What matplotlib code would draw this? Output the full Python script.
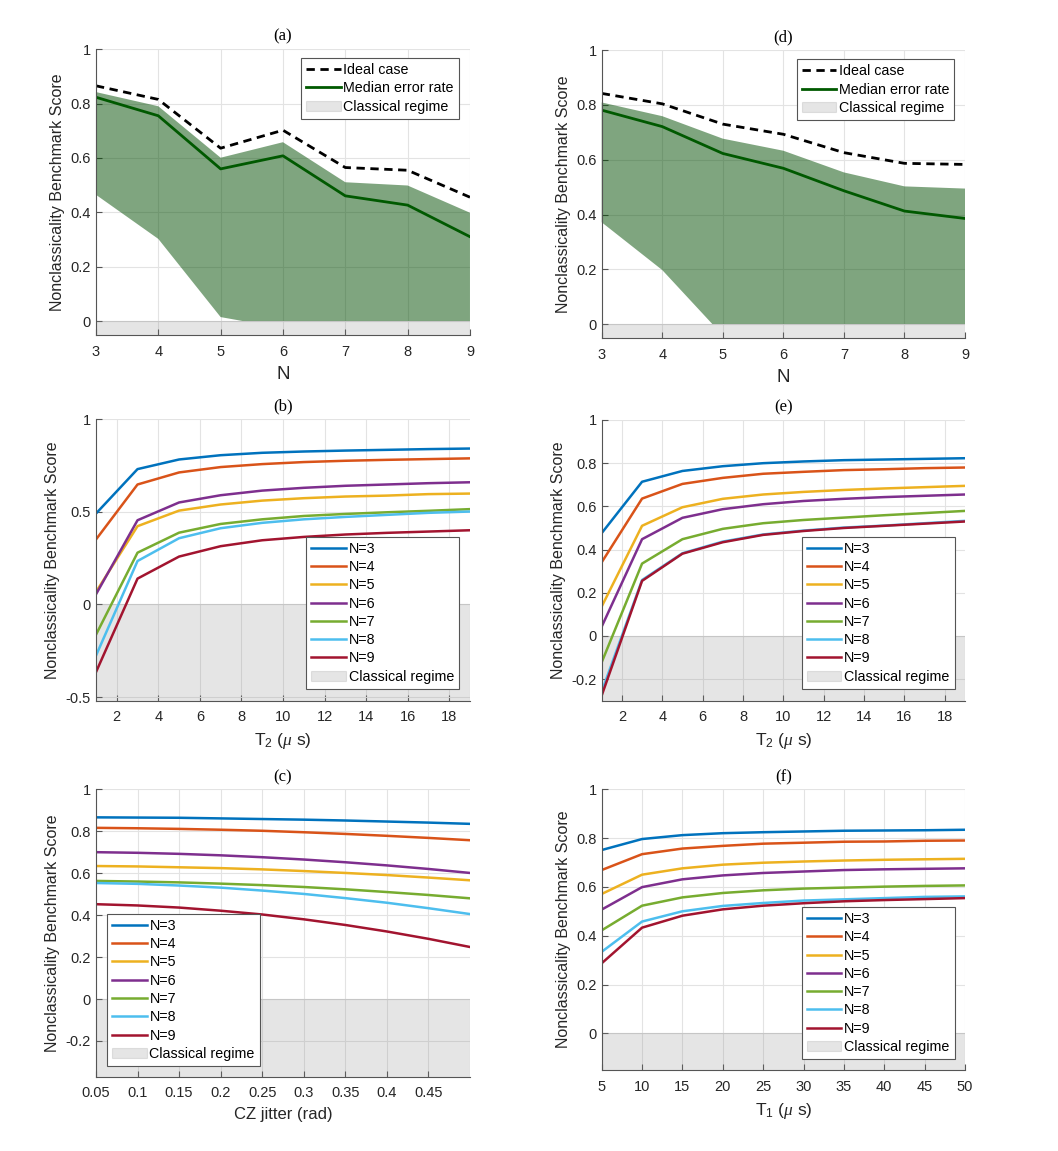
import matplotlib
matplotlib.use("Agg")
import matplotlib.pyplot as plt
from matplotlib.patches import Rectangle
from matplotlib.ticker import FormatStrFormatter

plt.rcParams["font.family"] = ["Liberation Sans", "DejaVu Sans"]
plt.rcParams["axes.unicode_minus"] = False
plt.rcParams["mathtext.fontset"] = "custom"
plt.rcParams["mathtext.rm"] = "Liberation Sans"
plt.rcParams["mathtext.it"] = "Liberation Serif:italic"

# ---- panel (a) / (d): score vs number of qubits ----
n_qubits = [3, 4, 5, 6, 7, 8, 9]
ideal_a = [0.865, 0.815, 0.636, 0.702, 0.565, 0.555, 0.456]
median_a = [0.823, 0.755, 0.560, 0.608, 0.461, 0.427, 0.311]
upper_a = [0.842, 0.790, 0.601, 0.658, 0.511, 0.499, 0.399]
lower_a = [0.465, 0.303, 0.016, -0.025, -0.15, -0.25, -0.35]

ideal_d = [0.842, 0.804, 0.730, 0.693, 0.626, 0.587, 0.583]
median_d = [0.781, 0.721, 0.623, 0.569, 0.487, 0.413, 0.386]
upper_d = [0.809, 0.759, 0.677, 0.633, 0.554, 0.503, 0.495]
lower_d = [0.372, 0.198, -0.04, -0.2, -0.3, -0.4, -0.5]

n_labels = ["N=3", "N=4", "N=5", "N=6", "N=7", "N=8", "N=9"]
colors = ["#0072BD", "#D95319", "#EDB120", "#7E2F8E", "#77AC30", "#4DBEEE", "#A2142F"]

# ---- panel (b) / (e): score vs T2 ----
t2 = [1, 3, 5, 7, 9, 11, 13, 15, 17, 19]
score_b = [
    [0.490, 0.730, 0.782, 0.805, 0.818, 0.825, 0.830, 0.834, 0.838, 0.841],
    [0.350, 0.647, 0.712, 0.741, 0.757, 0.768, 0.775, 0.780, 0.784, 0.788],
    [0.067, 0.422, 0.506, 0.539, 0.560, 0.573, 0.582, 0.587, 0.595, 0.598],
    [0.054, 0.454, 0.550, 0.589, 0.614, 0.629, 0.640, 0.647, 0.654, 0.659],
    [-0.164, 0.279, 0.387, 0.434, 0.459, 0.477, 0.488, 0.497, 0.505, 0.514],
    [-0.277, 0.234, 0.357, 0.411, 0.440, 0.459, 0.472, 0.483, 0.494, 0.501],
    [-0.366, 0.139, 0.258, 0.314, 0.346, 0.364, 0.377, 0.386, 0.393, 0.400],
]
score_e = [
    [0.476, 0.714, 0.764, 0.786, 0.800, 0.808, 0.814, 0.817, 0.820, 0.823],
    [0.341, 0.636, 0.704, 0.732, 0.751, 0.760, 0.768, 0.772, 0.777, 0.780],
    [0.136, 0.510, 0.596, 0.635, 0.655, 0.667, 0.676, 0.683, 0.689, 0.695],
    [0.043, 0.448, 0.547, 0.587, 0.610, 0.625, 0.635, 0.643, 0.649, 0.655],
    [-0.122, 0.335, 0.448, 0.496, 0.522, 0.537, 0.548, 0.559, 0.569, 0.579],
    [-0.258, 0.259, 0.383, 0.437, 0.470, 0.488, 0.502, 0.511, 0.522, 0.533],
    [-0.276, 0.255, 0.381, 0.434, 0.468, 0.486, 0.500, 0.510, 0.520, 0.530],
]

# ---- panel (c): score vs CZ jitter ----
jitter = [0.05, 0.1, 0.15, 0.2, 0.25, 0.3, 0.35, 0.4, 0.45, 0.5]
score_c = [
    [0.866, 0.865, 0.864, 0.861, 0.858, 0.855, 0.851, 0.846, 0.841, 0.835],
    [0.816, 0.814, 0.811, 0.807, 0.802, 0.795, 0.787, 0.778, 0.768, 0.757],
    [0.634, 0.632, 0.628, 0.624, 0.618, 0.610, 0.601, 0.591, 0.579, 0.566],
    [0.700, 0.697, 0.692, 0.685, 0.676, 0.665, 0.652, 0.637, 0.620, 0.601],
    [0.563, 0.560, 0.556, 0.550, 0.543, 0.534, 0.523, 0.510, 0.496, 0.480],
    [0.553, 0.549, 0.541, 0.531, 0.517, 0.501, 0.481, 0.459, 0.433, 0.405],
    [0.452, 0.446, 0.436, 0.421, 0.403, 0.380, 0.353, 0.322, 0.287, 0.248],
]

# ---- panel (f): score vs T1 ----
t1 = [5, 10, 15, 20, 25, 30, 35, 40, 45, 50]
score_f = [
    [0.751, 0.796, 0.812, 0.820, 0.824, 0.827, 0.830, 0.831, 0.832, 0.834],
    [0.669, 0.734, 0.757, 0.768, 0.777, 0.781, 0.785, 0.786, 0.789, 0.790],
    [0.571, 0.650, 0.676, 0.691, 0.699, 0.704, 0.708, 0.711, 0.713, 0.715],
    [0.507, 0.599, 0.631, 0.647, 0.657, 0.663, 0.669, 0.672, 0.674, 0.676],
    [0.422, 0.523, 0.557, 0.575, 0.586, 0.593, 0.597, 0.601, 0.604, 0.606],
    [0.334, 0.458, 0.500, 0.522, 0.534, 0.544, 0.549, 0.554, 0.559, 0.561],
    [0.287, 0.433, 0.482, 0.508, 0.523, 0.533, 0.541, 0.546, 0.550, 0.554],
]

YLABEL = "Nonclassicality Benchmark Score"
GRAY = (0.5, 0.5, 0.5)
LW = 1.8


def style_axes(ax, title):
    ax.set_title(title, fontfamily="Liberation Serif", fontsize=12, pad=6)
    for side in ["top", "right"]:
        ax.spines[side].set_visible(False)
    for side in ["left", "bottom"]:
        ax.spines[side].set_color("#555555")
        ax.spines[side].set_linewidth(0.8)
    ax.tick_params(direction="in", length=4, width=0.8, color="#555555",
                   labelcolor="#262626", labelsize=10.5)
    ax.tick_params(axis="x", pad=7)
    ax.grid(True, color="#e3e3e3", linewidth=0.8)
    ax.set_axisbelow(True)
    ax.set_ylabel(YLABEL, fontsize=11.5, color="#262626")


def classical(ax, bottom):
    return ax.axhspan(bottom, 0, facecolor=GRAY, alpha=0.2, edgecolor=GRAY,
                      linewidth=0.8, label="Classical regime")


def legend(ax, loc, anchor):
    lg = ax.legend(loc=loc, bbox_to_anchor=anchor, borderaxespad=0, fontsize=10.3,
                   fancybox=False, framealpha=1, edgecolor="#555555",
                   handlelength=2.4, handletextpad=0.2, labelspacing=0.3,
                   borderpad=0.35)
    lg.get_frame().set_linewidth(0.8)


fig = plt.figure(figsize=(10.58, 11.51), dpi=100)

ax_a = fig.add_axes([0.0907, 0.7089, 0.3535, 0.2485])
ax_d = fig.add_axes([0.5687, 0.7063, 0.3434, 0.2502])
ax_b = fig.add_axes([0.0907, 0.3912, 0.3535, 0.2447])
ax_e = fig.add_axes([0.5687, 0.3912, 0.3434, 0.2439])
ax_c = fig.add_axes([0.0907, 0.0646, 0.3535, 0.2497])
ax_f = fig.add_axes([0.5687, 0.0704, 0.3434, 0.2439])

# (a) and (d)
for ax, title, ideal, med, up, lo in [
    (ax_a, "(a)", ideal_a, median_a, upper_a, lower_a),
    (ax_d, "(d)", ideal_d, median_d, upper_d, lower_d),
]:
    style_axes(ax, title)
    band = ax.fill_between(n_qubits, lo, up, facecolor=(0, 0.3, 0), alpha=0.5,
                           linewidth=0)
    band.set_clip_path(Rectangle((0, 0), 20, 2, transform=ax.transData))
    ax.plot(n_qubits, ideal, "--", color="black", linewidth=LW + 0.2, dashes=(3, 2),
            label="Ideal case")
    ax.plot(n_qubits, med, "-", color=(0, 0.35, 0), linewidth=LW + 0.2,
            label="Median error rate")
    classical(ax, -1)
    ax.set_xlim(3, 9)
    ax.set_ylim(-0.05, 1)
    ax.set_yticks([0, 0.2, 0.4, 0.6, 0.8, 1])
    ax.yaxis.set_major_formatter(FormatStrFormatter("%g"))
    ax.set_xlabel("N", fontsize=13.5, color="#262626", labelpad=5)
    legend(ax, "upper right", (0.9706, 0.968))

# (b) and (e)
for ax, title, scores, ylo, yticks, anchor in [
    (ax_b, "(b)", score_b, -0.52, [-0.5, 0, 0.5, 1], (0.9706, 0.0426)),
    (ax_e, "(e)", score_e, -0.3, [-0.2, 0, 0.2, 0.4, 0.6, 0.8, 1], (0.9717, 0.0427)),
]:
    style_axes(ax, title)
    for ys, c, lab in zip(scores, colors, n_labels):
        ax.plot(t2, ys, color=c, linewidth=LW, label=lab)
    classical(ax, -1)
    ax.set_xlim(1, 19)
    ax.set_ylim(ylo, 1)
    ax.set_xticks(range(2, 19, 2))
    ax.set_yticks(yticks)
    ax.yaxis.set_major_formatter(FormatStrFormatter("%g"))
    ax.set_xlabel(r"T$_2$ ($\mu$ s)", fontsize=12.5, color="#262626", labelpad=5)
    legend(ax, "lower right", anchor)

# (c)
style_axes(ax_c, "(c)")
for ys, c, lab in zip(score_c, colors, n_labels):
    ax_c.plot(jitter, ys, color=c, linewidth=LW, label=lab)
classical(ax_c, -1)
ax_c.set_xlim(0.05, 0.5)
ax_c.set_ylim(-0.37, 1)
ax_c.set_xticks([0.05, 0.1, 0.15, 0.2, 0.25, 0.3, 0.35, 0.4, 0.45])
ax_c.xaxis.set_major_formatter(FormatStrFormatter("%g"))
ax_c.set_yticks([-0.2, 0, 0.2, 0.4, 0.6, 0.8, 1])
ax_c.yaxis.set_major_formatter(FormatStrFormatter("%g"))
ax_c.set_xlabel("CZ jitter (rad)", fontsize=12, color="#262626", labelpad=5)
legend(ax_c, "lower left", (0.0302, 0.0372))

# (f)
style_axes(ax_f, "(f)")
for ys, c, lab in zip(score_f, colors, n_labels):
    ax_f.plot(t1, ys, color=c, linewidth=LW, label=lab)
classical(ax_f, -1)
ax_f.set_xlim(5, 50)
ax_f.set_ylim(-0.15, 1)
ax_f.set_xticks(range(5, 51, 5))
ax_f.set_yticks([0, 0.2, 0.4, 0.6, 0.8, 1])
ax_f.yaxis.set_major_formatter(FormatStrFormatter("%g"))
ax_f.set_xlabel(r"T$_1$ ($\mu$ s)", fontsize=12.5, color="#262626", labelpad=5)
legend(ax_f, "lower right", (0.9717, 0.039))

fig.savefig("out.png", dpi=100)
